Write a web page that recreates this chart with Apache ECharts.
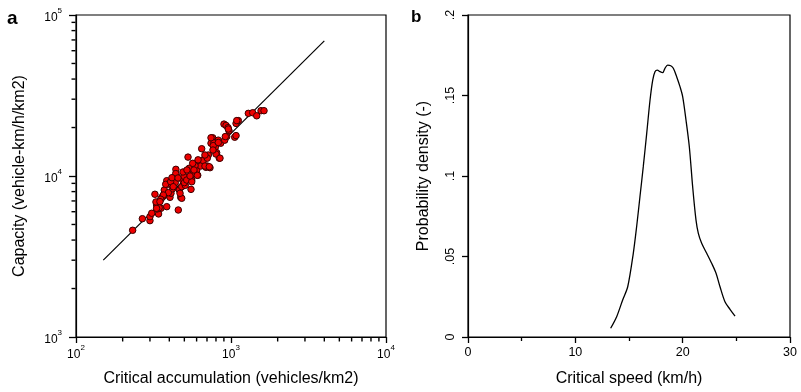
<!DOCTYPE html>
<html>
<head>
<meta charset="utf-8">
<script src="https://cdn.jsdelivr.net/npm/echarts@6/dist/echarts.min.js"></script>
<style>
html,body{margin:0;padding:0;background:#fff;}
#chart{width:801px;height:392px;}
</style>
</head>
<body>
<div id="chart"></div>
<script>
// Panel a: critical accumulation (vehicles/km2) vs capacity (vehicle-km/h/km2)
const accumulation = [232,268,300,300,308,341,323,331,334,353,358,366,385,371,385,390,404,410,420,424,
  437,441,444,457,464,474,481,488,498,507,528,538,544,558,552,571,586,601,610,625,
  638,647,662,689,703,714,732,743,762,776,792,808,828,840,858,901,929,957,971,938,
  911,1057,1078,1115,1294,1381,1465,1562,1633,379,408,424,394,366,352,344,331,481,469,500,
  518,558,544,586,606,566,662,679,703,724,743,768,800,828,849,919,961,1078,1089,328,
  348,440,416,455,490,520,577,613,679,765];
const capacity = [4600,5430,5280,5590,5870,5810,7700,6610,6240,6300,7370,7510,6450,8180,9350,8880,7370,7810,8330,8920,
  9090,11000,10060,6150,8180,7370,8580,9440,9960,8750,13100,11170,9670,9440,8260,10350,11700,10900,10100,12100,
  11530,14770,12600,11320,11530,13500,11260,15980,17270,16150,15090,13960,16700,12910,15980,21000,20610,19960,19110,17570,
  16700,17410,21210,22080,24490,24710,23660,25440,25440,8880,9210,8580,7880,7620,7170,6360,6300,7270,7810,9090,
  9440,9210,10000,11580,10100,11990,12470,11530,12910,11420,17270,15440,13690,16150,12910,17570,19580,17820,22080,6900,
  6930,10350,9760,9720,10590,10900,10900,12600,13500,14500];
// fitted power-law line endpoints
const fitX = [150, 4000];
const fitY = [3000, 69000];
// log-axis minor tick values
const xMinorTicks = [200,300,400,500,600,700,800,900,2000,3000,4000,5000,6000,7000,8000,9000];
const yMinorTicks = [2000,3000,4000,5000,6000,7000,8000,9000,20000,30000,40000,50000,60000,70000,80000,90000];

// Panel b: critical speed (km/h) density
const speed = [13.29,13.85,14.41,14.88,15.40,15.71,16.02,16.33,16.65,16.96,17.21,17.42,17.64,17.89,18.14,18.35,18.60,18.89,19.13,19.44,
  19.75,20.00,20.31,20.62,20.93,21.24,21.46,21.77,22.24,22.70,23.11,23.48,23.94,24.41,24.88];
const density = [0.0054,0.0126,0.023,0.0312,0.052,0.0685,0.0871,0.1058,0.1265,0.1472,0.1596,0.1648,0.1658,0.1648,0.1642,0.1669,0.1689,0.1685,0.1669,0.1617,
  0.1555,0.1493,0.1348,0.1182,0.0934,0.0727,0.0644,0.0582,0.0520,0.0458,0.0396,0.0312,0.0219,0.0172,0.0130];

const FONT = '"Liberation Sans", Arial, sans-serif';
const chart = echarts.init(document.getElementById('chart'), null, {renderer: 'canvas'});

const X_MIN = 100, X_MAX = 10000, Y_MIN = 1000, Y_MAX = 100000;

const powLabel = {
  fontFamily: FONT, color: '#000',
  formatter: function (v) { return '{b|10}{s|' + Math.round(Math.log10(v)) + '}'; },
  rich: {
    b: {fontSize: 12, fontFamily: FONT, color: '#000', lineHeight: 17, verticalAlign: 'bottom'},
    s: {fontSize: 8, fontFamily: FONT, color: '#000', lineHeight: 8, verticalAlign: 'top'}
  }
};

const scatterData = accumulation.map((a, i) => [a, capacity[i]]);
const fitData = fitX.map((a, i) => [a, fitY[i]]);
const densData = speed.map((s, i) => [s, density[i]]);
// minor tick marks of the log axes, placed by the axes' own scales
const xMinorMarks = xMinorTicks.map(v => [v, Y_MIN]);
const yMinorMarks = yMinorTicks.map(v => [X_MIN, v]);

const tickLine = {color: '#000', width: 1.3};

chart.setOption({
  animation: false,
  backgroundColor: '#fff',
  graphic: [
    {type: 'text', x: 7, y: 18.5, style: {text: 'a', font: 'bold 19px ' + FONT, fill: '#000', verticalAlign: 'middle'}},
    {type: 'text', x: 411, y: 17, style: {text: 'b', font: 'bold 17px ' + FONT, fill: '#000', verticalAlign: 'middle'}}
  ],
  grid: [
    {left: 76, top: 15, width: 310, height: 322, show: true, borderColor: '#000', borderWidth: 1.2, containLabel: false},
    {left: 468, top: 15, width: 322, height: 322, show: true, borderColor: '#000', borderWidth: 1.2, containLabel: false}
  ],
  xAxis: [
    {type: 'log', gridIndex: 0, logBase: 10, min: X_MIN, max: X_MAX,
      name: 'Critical accumulation (vehicles/km2)', nameLocation: 'middle', nameGap: 34,
      nameTextStyle: {fontSize: 16, fontFamily: FONT, color: '#000'},
      axisLine: {lineStyle: {color: '#000', width: 1.2}},
      axisTick: {show: true, length: 6, lineStyle: tickLine},
      splitLine: {show: false},
      axisLabel: Object.assign({margin: 7}, powLabel)},
    {type: 'value', gridIndex: 1, min: 0, max: 30, interval: 10,
      name: 'Critical speed (km/h)', nameLocation: 'middle', nameGap: 34,
      nameTextStyle: {fontSize: 16, fontFamily: FONT, color: '#000'},
      axisLine: {lineStyle: {color: '#000', width: 1.2}},
      axisTick: {show: true, length: 6, lineStyle: tickLine},
      minorTick: {show: true, splitNumber: 2, length: 4, lineStyle: tickLine},
      splitLine: {show: false},
      axisLabel: {fontSize: 12.5, fontFamily: FONT, color: '#000', margin: 9}}
  ],
  yAxis: [
    {type: 'log', gridIndex: 0, logBase: 10, min: Y_MIN, max: Y_MAX,
      name: 'Capacity (vehicle-km/h/km2)', nameLocation: 'middle', nameGap: 48,
      nameTextStyle: {fontSize: 16, fontFamily: FONT, color: '#000'},
      axisLine: {lineStyle: {color: '#000', width: 1.2}},
      axisTick: {show: true, length: 7, lineStyle: tickLine},
      splitLine: {show: false},
      axisLabel: Object.assign({margin: 14}, powLabel)},
    {type: 'value', gridIndex: 1, min: 0, max: 0.2, interval: 0.05,
      name: 'Probability density (-)', nameLocation: 'middle', nameGap: 36,
      nameTextStyle: {fontSize: 16, fontFamily: FONT, color: '#000'},
      axisLine: {lineStyle: {color: '#000', width: 1.2}},
      axisTick: {show: true, length: 6, lineStyle: tickLine},
      splitLine: {show: false},
      axisLabel: {fontSize: 12.5, fontFamily: FONT, color: '#000', margin: 11, rotate: 90,
        formatter: function (v) { const t = String(parseFloat(v.toFixed(3))); return t === '0' ? '0' : t.replace(/^0/, ''); }}}
  ],
  series: [
    {type: 'line', xAxisIndex: 0, yAxisIndex: 0, data: fitData, showSymbol: false, symbol: 'none',
      lineStyle: {color: '#000', width: 1.2}, z: 2},
    {type: 'scatter', xAxisIndex: 0, yAxisIndex: 0, data: scatterData, symbol: 'circle', symbolSize: 6.5,
      itemStyle: {color: '#ee0000', borderColor: '#3a0000', borderWidth: 1, opacity: 1}, z: 3},
    {type: 'scatter', xAxisIndex: 0, yAxisIndex: 0, data: xMinorMarks, symbol: 'rect', symbolSize: [1.4, 4],
      symbolOffset: [0, 2.5], itemStyle: {color: '#000', opacity: 1}, clip: false, silent: true, z: 4},
    {type: 'scatter', xAxisIndex: 0, yAxisIndex: 0, data: yMinorMarks, symbol: 'rect', symbolSize: [4, 1.4],
      symbolOffset: [-2.5, 0], itemStyle: {color: '#000', opacity: 1}, clip: false, silent: true, z: 4},
    {type: 'line', xAxisIndex: 1, yAxisIndex: 1, data: densData, showSymbol: false, symbol: 'none', smooth: 0.3,
      lineStyle: {color: '#000', width: 1.3}}
  ]
});
</script>
</body>
</html>
